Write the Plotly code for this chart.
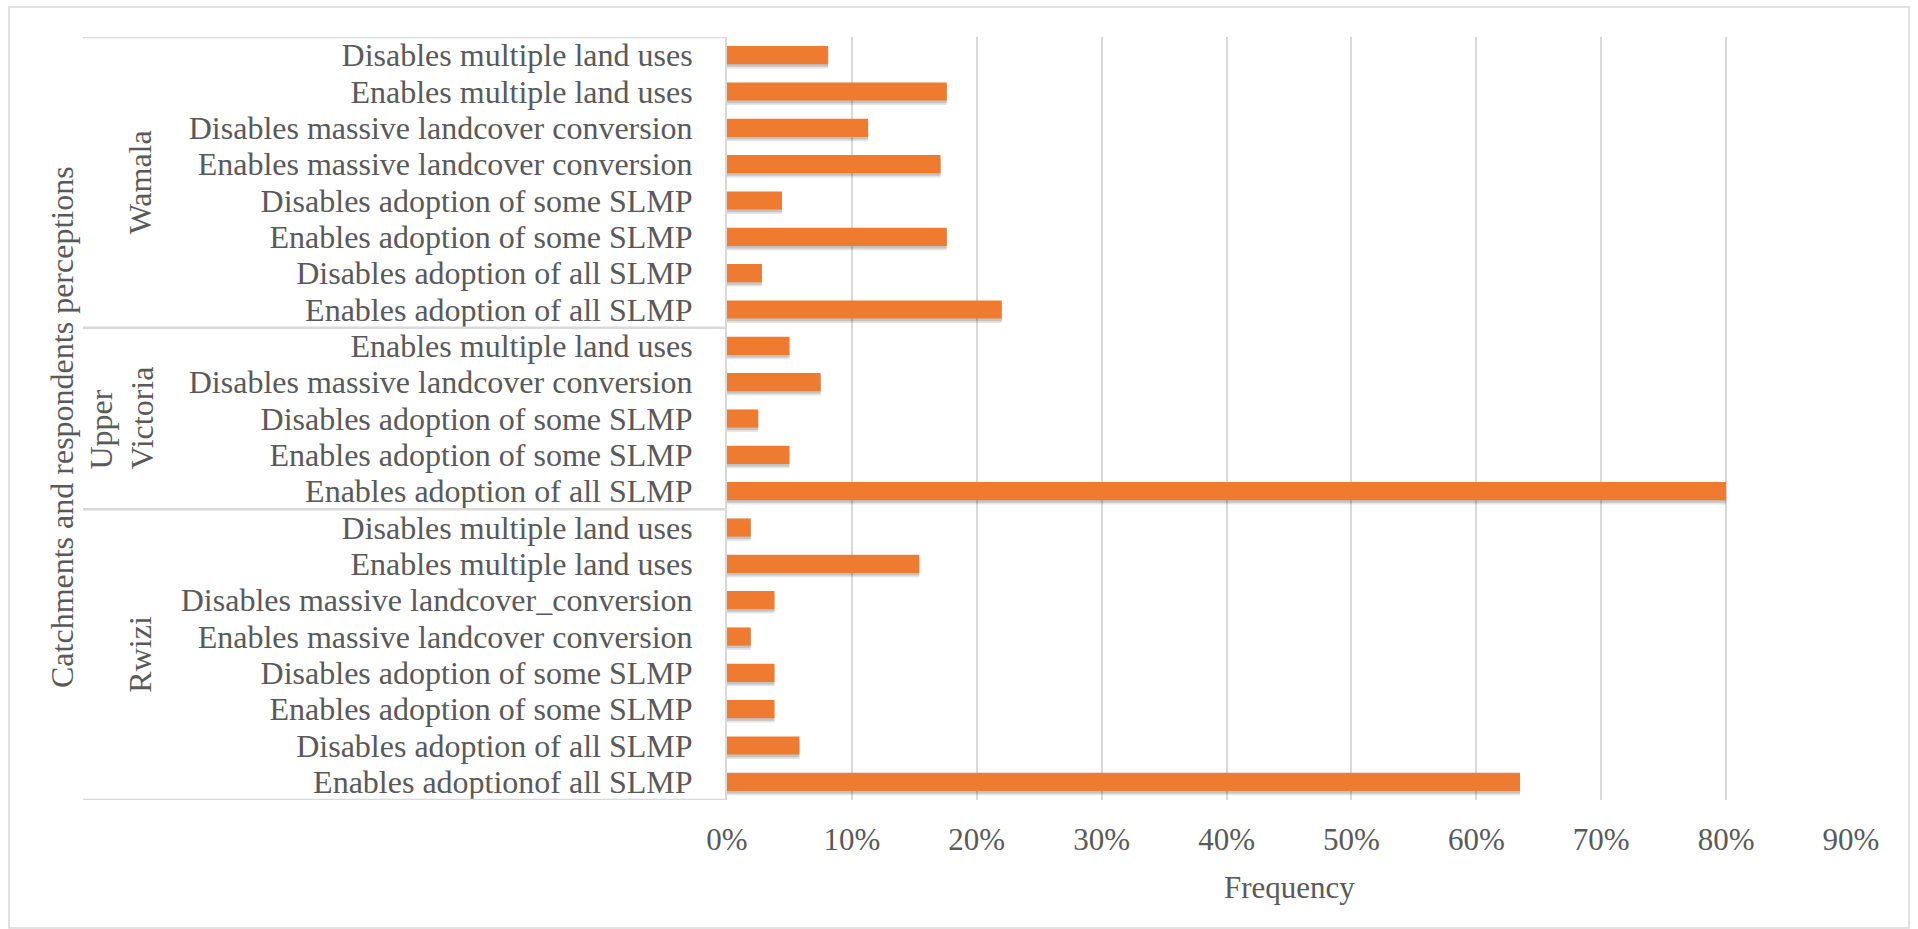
import plotly.graph_objects as go

# ---- data (bottom-to-top order within each catchment) ----
rwizi_labels = [
    "Enables adoptionof all SLMP",
    "Disables adoption of all SLMP",
    "Enables adoption of some SLMP",
    "Disables adoption of some SLMP",
    "Enables massive landcover conversion",
    "Disables massive landcover_conversion",
    "Enables multiple land uses",
    "Disables multiple land uses",
]
rwizi_values = [63.5, 5.8, 3.8, 3.8, 1.9, 3.8, 15.4, 1.9]

upper_victoria_labels = [
    "Enables adoption of all SLMP",
    "Enables adoption of some SLMP",
    "Disables adoption of some SLMP",
    "Disables massive landcover conversion",
    "Enables multiple land uses",
]
upper_victoria_values = [80.0, 5.0, 2.5, 7.5, 5.0]

wamala_labels = [
    "Enables adoption of all SLMP",
    "Disables adoption of all SLMP",
    "Enables adoption of some SLMP",
    "Disables adoption of some SLMP",
    "Enables massive landcover conversion",
    "Disables massive landcover conversion",
    "Enables multiple land uses",
    "Disables multiple land uses",
]
wamala_values = [22.0, 2.8, 17.6, 4.4, 17.1, 11.3, 17.6, 8.1]

groups = [
    ("Rwizi", rwizi_labels, rwizi_values),
    ("Upper<br>Victoria", upper_victoria_labels, upper_victoria_values),
    ("Wamala", wamala_labels, wamala_values),
]

x_ticks = [0, 10, 20, 30, 40, 50, 60, 70, 80, 90]
x_tick_text = [f"{v}%" for v in x_ticks]

# ---- build positions ----
labels, values, group_spans = [], [], []
for name, labs, vals in groups:
    start = len(labels)
    labels += labs
    values += vals
    group_spans.append((name, start, len(labels) - 1))
pos = list(range(len(labels)))

# ---- layout geometry (pixels) ----
W, H = 1918, 929
PL, PR, PT, PB = 727, 1851, 37, 800
pw, ph = PR - PL, PB - PT


def px_x(p):
    return (p - PL) / pw


def px_y(p):
    return (PB - p) / ph


FONT = "Liberation Serif, Times New Roman, serif"
GRAY = "#595959"
LINE = "#D9D9D9"
ORANGE = "#EE7B30"

fig = go.Figure()
# soft shadow layers
fig.add_trace(go.Bar(
    x=values, y=pos, orientation="h", width=0.5, offset=-0.37,
    marker=dict(color="rgba(0,0,0,0.10)", line=dict(width=0)),
    hoverinfo="skip", showlegend=False))
fig.add_trace(go.Bar(
    x=values, y=pos, orientation="h", width=0.5, offset=-0.32,
    marker=dict(color="rgba(0,0,0,0.14)", line=dict(width=0)),
    hoverinfo="skip", showlegend=False))
fig.add_trace(go.Bar(
    x=values, y=pos, orientation="h", width=0.5,
    marker=dict(color=ORANGE, line=dict(width=0)),
    showlegend=False))

shapes = []
# outer chart border
shapes.append(dict(type="rect", xref="paper", yref="paper",
                   x0=px_x(9), x1=px_x(1909), y0=px_y(928), y1=px_y(7),
                   line=dict(color=LINE, width=1.5), layer="below"))
# category table lines
for yv in [len(labels) - 0.5] + [s[1] - 0.5 for s in group_spans]:
    shapes.append(dict(type="line", xref="paper", yref="y",
                       x0=px_x(83), x1=0, y0=yv, y1=yv,
                       line=dict(color=LINE, width=2.5)))

annotations = []
for name, a, b in group_spans:
    two = "<br>" in name
    annotations.append(dict(
        text=name, xref="paper", yref="y",
        x=px_x(121 if two else 140), y=(a + b) / 2,
        xanchor="center", yanchor="middle", textangle=-90,
        align="left", showarrow=False,
        font=dict(family=FONT, size=32, color=GRAY)))
annotations.append(dict(
    text="Catchments and respondents perceptions", xref="paper", yref="paper",
    x=px_x(62), y=px_y(427), xanchor="center", yanchor="middle",
    textangle=-90, showarrow=False,
    font=dict(family=FONT, size=32, color=GRAY)))
annotations.append(dict(
    text="Frequency", xref="paper", yref="paper",
    x=0.5, y=px_y(887), xanchor="center", yanchor="middle",
    showarrow=False, font=dict(family=FONT, size=31, color=GRAY)))

fig.update_layout(
    width=W, height=H,
    margin=dict(l=PL, r=W - PR, t=PT, b=H - PB, pad=0),
    paper_bgcolor="white", plot_bgcolor="white",
    barmode="overlay", bargap=0.5,
    shapes=shapes, annotations=annotations,
    xaxis=dict(range=[0, 90], tickvals=x_ticks, ticktext=x_tick_text,
               showgrid=True, gridcolor=LINE, gridwidth=2,
               zeroline=False, showline=False, ticks="",
               ticklabelstandoff=18,
               tickfont=dict(family=FONT, size=31, color=GRAY)),
    yaxis=dict(range=[-0.5, len(labels) - 0.5], tickvals=pos, ticktext=labels,
               showgrid=False, zeroline=False, showline=True,
               linecolor=LINE, linewidth=2, ticks="",
               ticklabelstandoff=26,
               tickfont=dict(family=FONT, size=32, color=GRAY)),
)

fig.write_html("out.html")
